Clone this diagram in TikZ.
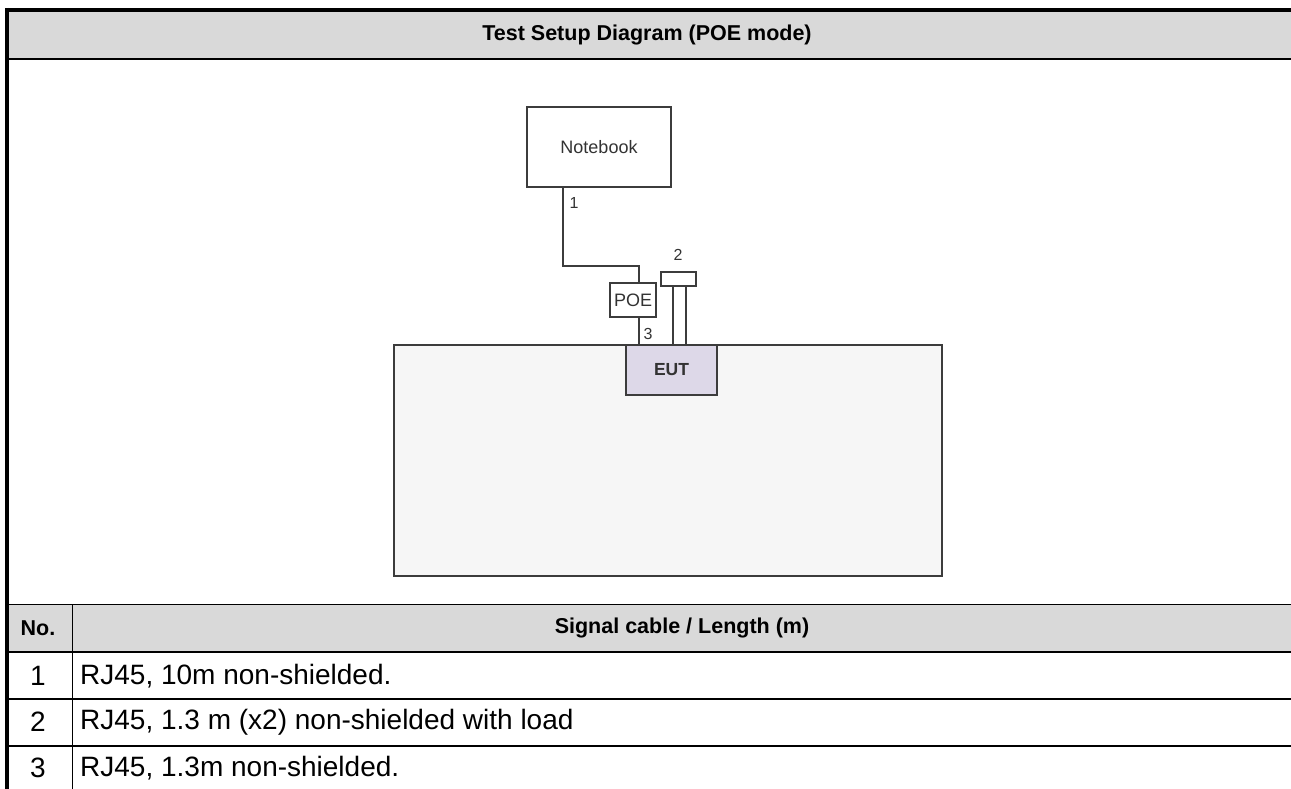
\documentclass[tikz,border=0pt]{standalone}
\usepackage{fontspec}
\setmainfont{Liberation Sans}
\usetikzlibrary{calc}
\definecolor{hdrgray}{HTML}{D9D9D9}
\definecolor{tablefill}{HTML}{F6F6F6}
\definecolor{eutfill}{HTML}{DDD8E8}
\definecolor{linegray}{HTML}{3C3C3C}
\definecolor{txtgray}{HTML}{333333}
\tikzset{
  devbox/.style={draw=linegray, line width=1.2pt, fill=white, inner sep=0pt, font=\fontsize{18}{21}\selectfont, text=txtgray},
  cable/.style={draw=linegray, line width=1.1pt},
  cablelbl/.style={font=\fontsize{16}{19}\selectfont, text=txtgray, inner sep=0pt},
  thickrule/.style={line width=2pt, black},
  thinrule/.style={line width=1pt, black},
  celltxt/.style={font=\fontsize{28}{32}\selectfont, inner sep=0pt},
  cellbold/.style={font=\bfseries\fontsize{21.5}{26}\selectfont, inner sep=0pt}
}
\begin{document}
\begin{tikzpicture}[x=1pt,y=-1pt]
\useasboundingbox (0,0) rectangle (1291,789);
\fill[white] (0,0) rectangle (1291,789);
% header fills
\fill[hdrgray] (7,10) rectangle (1291,59);
\fill[hdrgray] (7,604) rectangle (1291,652);
% rules
\draw[line width=4pt] (5,10) -- (1291,10);
\draw[line width=4pt] (7,8) -- (7,789);
\draw[thickrule] (7,59) -- (1291,59);
\draw[thinrule] (7,604.5) -- (1291,604.5);
\draw[thickrule] (7,652) -- (1291,652);
\draw[thickrule] (7,699) -- (1291,699);
\draw[thickrule] (7,746) -- (1291,746);
\draw[thinrule] (72.5,604) -- (72.5,789);
% table texts
\node[cellbold] (title) at (647,35) {Test Setup Diagram (POE mode)};
\node[cellbold] (nohdr) at (38,628) {No.};
\node[cellbold] (sighdr) at (682,628) {Signal cable / Length (m)};
\node[celltxt] (n1) at (38,676) {1};
\node[celltxt] (n2) at (38,722) {2};
\node[celltxt] (n3) at (38,768) {3};
\node[celltxt, anchor=west] (r1) at (80,676) {RJ45, 10m non-shielded.};
\node[celltxt, anchor=west] (r2) at (80,722) {RJ45, 1.3 m (x2) non-shielded with load};
\node[celltxt, anchor=west] (r3) at (80,768) {RJ45, 1.3m non-shielded.};
% diagram
\node[draw=linegray, line width=1.5pt, fill=tablefill, minimum width=548pt, minimum height=231pt, inner sep=0pt] (table) at (668,460.5) {};
\node[draw=linegray, line width=1.5pt, fill=eutfill, minimum width=91pt, minimum height=50pt, inner sep=0pt, font=\bfseries\fontsize{17.5}{20}\selectfont, text=txtgray] (eut) at (671.5,370) {EUT};
\node[devbox, minimum width=144pt, minimum height=80pt] (notebook) at (599,147) {Notebook};
\node[devbox, minimum width=46pt, minimum height=34pt] (poe) at (633,300) {POE};
\node[devbox, minimum width=35pt, minimum height=14pt] (load) at (678.5,279) {};
% cable 1
\coordinate (c1a) at (563,187);
\coordinate (c1b) at (563,266);
\coordinate (c1c) at (639,266);
\coordinate (c1d) at (639,283);
\draw[cable] (c1a) -- (c1b) -- (c1c) -- (c1d);
% cable 3
\coordinate (c3a) at (639,317);
\coordinate (c3b) at (639,345);
\draw[cable] (c3a) -- (c3b);
% cable 2
\coordinate (c2a) at (673,286);
\coordinate (c2b) at (673,345);
\coordinate (c2c) at (686,286);
\coordinate (c2d) at (686,345);
\draw[cable] (c2a) -- (c2b);
\draw[cable] (c2c) -- (c2d);
% labels
\node[cablelbl] (l1) at (574,203) {1};
\node[cablelbl] (l2) at (678,255) {2};
\node[cablelbl] (l3) at (648,334) {3};
\end{tikzpicture}
\end{document}
